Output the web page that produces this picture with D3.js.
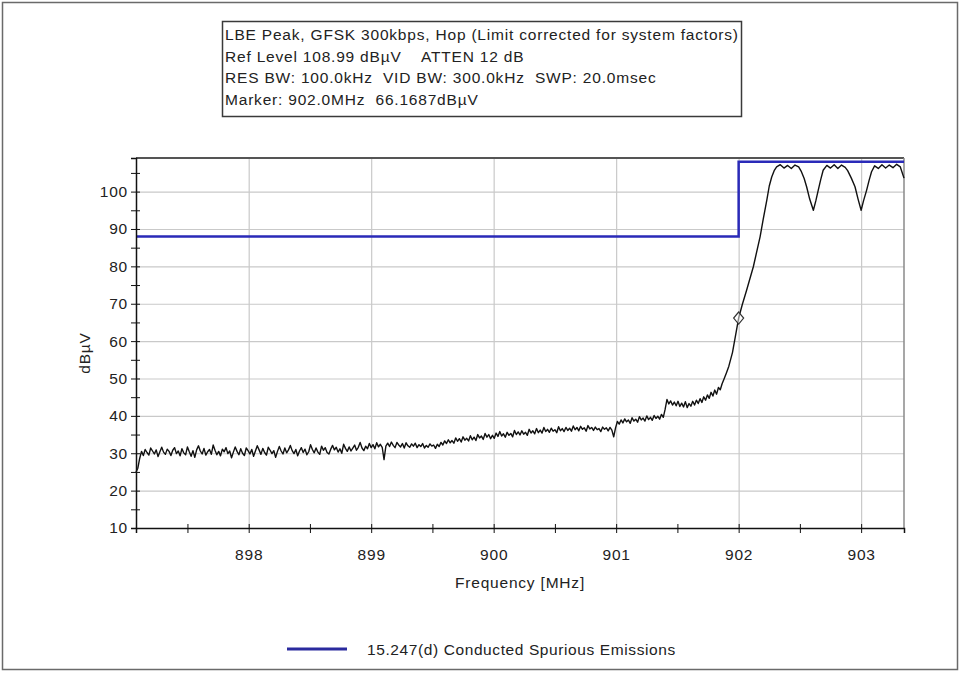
<!DOCTYPE html>
<html>
<head>
<meta charset="utf-8">
<script src="https://cdn.jsdelivr.net/npm/d3@7/dist/d3.min.js"></script>
<style>
  html, body { margin: 0; padding: 0; background: #fff; }
  svg { display: block; }
  text { font-family: "Liberation Sans", Arial, sans-serif; fill: #222; white-space: pre; }
</style>
</head>
<body>
<svg id="chart" width="960" height="673"></svg>
<script>
// Spectrum analyser sweep: band-edge (lower) conducted emissions
const headerLines = [
  "LBE Peak, GFSK 300kbps, Hop (Limit corrected for system factors)",
  "Ref Level 108.99 dB\u00B5V    ATTEN 12 dB",
  "RES BW: 100.0kHz  VID BW: 300.0kHz  SWP: 20.0msec",
  "Marker: 902.0MHz  66.1687dB\u00B5V"
];

const freqRange = [897.08, 903.35];      // MHz, sweep span
const levelRange = [10, 108.99];         // dBµV, ref level on top
const xMajorTicks = [898, 899, 900, 901, 902, 903];
const xMinorTicks = [897.5, 898.5, 899.5, 900.5, 901.5, 902.5];
const yMajorTicks = [10, 20, 30, 40, 50, 60, 70, 80, 90, 100];
const yMinorTicks = [15, 25, 35, 45, 55, 65, 75, 85, 95, 105];

// 15.247(d) limit line (MHz, dBµV)
const limitLine = [[897.08, 88], [902.0, 88], [902.0, 108], [903.35, 108]];

// Marker reading
const marker = { freq: 902.0, level: 66.1687 };

const legendLabel = "15.247(d) Conducted Spurious Emissions";

// Measured trace (MHz, dBµV)
const trace = [
  [897.080,25.0],[897.095,26.0],[897.110,28.6],[897.125,30.5],[897.140,29.4],[897.155,31.0],[897.170,30.2],[897.185,29.5],
  [897.200,31.4],[897.215,30.6],[897.230,29.8],[897.245,30.9],[897.260,29.1],[897.275,30.4],[897.290,31.6],[897.305,30.3],
  [897.320,29.7],[897.335,31.1],[897.350,30.5],[897.365,29.4],[897.380,30.8],[897.395,31.5],[897.410,29.9],[897.425,30.6],
  [897.440,29.3],[897.455,31.2],[897.470,30.1],[897.485,29.6],[897.500,31.7],[897.515,30.4],[897.530,29.2],[897.545,30.7],
  [897.560,28.9],[897.575,30.9],[897.590,32.0],[897.605,30.6],[897.620,29.8],[897.635,31.3],[897.650,29.5],[897.665,30.4],
  [897.680,31.0],[897.695,29.7],[897.710,32.2],[897.725,30.8],[897.740,29.6],[897.755,30.5],[897.770,29.3],[897.785,31.1],
  [897.800,30.4],[897.815,31.5],[897.830,29.9],[897.845,30.6],[897.860,28.8],[897.875,30.3],[897.890,31.7],[897.905,30.5],
  [897.920,29.6],[897.935,31.2],[897.950,30.0],[897.965,29.4],[897.980,31.4],[897.995,30.7],[898.010,29.8],[898.025,31.0],
  [898.040,29.2],[898.055,30.6],[898.070,32.0],[898.085,30.9],[898.100,29.7],[898.115,31.3],[898.130,30.2],[898.145,29.5],
  [898.160,31.6],[898.175,30.8],[898.190,29.9],[898.205,30.7],[898.220,28.9],[898.235,30.5],[898.250,31.8],[898.265,30.6],
  [898.280,29.8],[898.295,31.4],[898.310,30.1],[898.325,30.9],[898.340,32.1],[898.355,30.7],[898.370,29.9],[898.385,31.0],
  [898.400,29.3],[898.415,30.6],[898.430,31.5],[898.445,30.2],[898.460,31.1],[898.475,29.6],[898.490,30.4],[898.505,32.3],
  [898.520,31.0],[898.535,30.1],[898.550,31.4],[898.565,30.3],[898.580,29.7],[898.595,31.9],[898.610,30.8],[898.625,31.5],
  [898.640,30.2],[898.655,29.8],[898.670,31.1],[898.685,32.1],[898.700,30.9],[898.715,31.6],[898.730,30.3],[898.745,31.2],
  [898.760,30.0],[898.775,32.4],[898.790,31.3],[898.805,30.5],[898.820,31.7],[898.835,30.6],[898.850,31.4],[898.865,32.2],
  [898.880,30.8],[898.895,31.6],[898.910,32.9],[898.925,31.4],[898.940,30.7],[898.955,31.9],[898.970,31.2],[898.985,32.6],
  [899.000,31.5],[899.015,32.3],[899.030,31.2],[899.045,32.8],[899.060,31.7],[899.075,32.4],[899.090,31.6],[899.105,28.3],
  [899.120,31.9],[899.135,32.7],[899.150,31.8],[899.165,33.0],[899.180,32.1],[899.195,31.5],[899.210,32.9],[899.225,32.2],
  [899.240,31.7],[899.255,32.6],[899.270,31.4],[899.285,32.8],[899.300,32.0],[899.315,31.6],[899.330,32.5],[899.345,31.9],
  [899.360,32.7],[899.375,31.5],[899.390,32.3],[899.405,31.8],[899.420,32.6],[899.435,31.4],[899.450,32.1],[899.465,31.6],
  [899.480,32.5],[899.495,31.9],[899.510,32.2],[899.525,31.3],[899.540,32.4],[899.555,31.8],[899.570,32.9],[899.585,32.2],
  [899.600,33.3],[899.615,32.6],[899.630,33.6],[899.645,32.8],[899.660,33.4],[899.675,32.7],[899.690,34.1],[899.705,33.2],
  [899.720,33.9],[899.735,33.0],[899.750,34.4],[899.765,33.5],[899.780,34.0],[899.795,33.3],[899.810,34.7],[899.825,33.6],
  [899.840,34.3],[899.855,33.4],[899.870,35.0],[899.885,34.1],[899.900,34.6],[899.915,33.7],[899.930,35.3],[899.945,34.3],
  [899.960,35.0],[899.975,33.9],[899.990,34.8],[900.005,34.0],[900.020,35.4],[900.035,34.5],[900.050,35.8],[900.065,34.6],
  [900.080,35.2],[900.095,34.3],[900.110,35.6],[900.125,34.8],[900.140,35.3],[900.155,34.4],[900.170,36.1],[900.185,35.0],
  [900.200,35.7],[900.215,34.9],[900.230,36.0],[900.245,35.1],[900.260,35.6],[900.275,34.8],[900.290,36.4],[900.305,35.4],
  [900.320,36.0],[900.335,35.2],[900.350,36.6],[900.365,35.5],[900.380,36.2],[900.395,35.4],[900.410,36.9],[900.425,35.8],
  [900.440,36.4],[900.455,35.6],[900.470,36.7],[900.485,35.9],[900.500,36.3],[900.515,35.5],[900.530,37.1],[900.545,36.0],
  [900.560,36.6],[900.575,35.8],[900.590,36.9],[900.605,36.1],[900.620,36.7],[900.635,35.9],[900.650,37.3],[900.665,36.3],
  [900.680,36.9],[900.695,36.0],[900.710,37.2],[900.725,36.4],[900.740,36.8],[900.755,35.9],[900.770,37.4],[900.785,36.5],
  [900.800,36.9],[900.815,36.1],[900.830,37.0],[900.845,36.3],[900.860,36.6],[900.875,35.8],[900.890,37.0],[900.905,36.4],
  [900.920,36.8],[900.935,36.0],[900.950,36.9],[900.965,36.2],[900.980,34.4],[900.995,36.8],[901.010,38.5],[901.025,37.8],
  [901.040,38.9],[901.055,38.1],[901.070,39.2],[901.085,38.4],[901.100,38.9],[901.115,38.0],[901.130,39.5],[901.145,38.6],
  [901.160,39.1],[901.175,38.3],[901.190,39.8],[901.205,38.9],[901.220,39.4],[901.235,38.6],[901.250,40.0],[901.265,39.0],
  [901.280,39.6],[901.295,38.8],[901.310,40.1],[901.325,39.3],[901.340,39.9],[901.355,39.1],[901.370,40.4],[901.385,39.6],
  [901.400,41.8],[901.415,44.4],[901.430,43.2],[901.445,44.0],[901.460,42.9],[901.475,43.7],[901.490,42.7],[901.505,43.9],
  [901.520,42.5],[901.535,43.4],[901.550,42.4],[901.565,43.8],[901.580,42.2],[901.595,43.3],[901.610,42.6],[901.625,43.9],
  [901.640,42.9],[901.655,44.2],[901.670,43.3],[901.685,44.6],[901.700,43.6],[901.715,45.1],[901.730,44.2],[901.745,45.6],
  [901.760,44.7],[901.775,46.3],[901.790,45.3],[901.805,46.9],[901.820,45.8],[901.835,47.6],[901.850,47.0],[901.865,48.6],
  [901.880,49.8],[901.900,51.5],[901.920,53.3],[901.950,57.0],[901.980,62.5],[902.000,66.17],[902.030,69.8],[902.065,73.6],
  [902.120,79.9],[902.175,87.9],[902.200,92.5],[902.230,97.7],[902.250,101.5],[902.270,103.9],[902.290,105.6],[902.310,106.6],
  [902.340,107.2],[902.370,106.3],[902.400,107.0],[902.430,106.2],[902.460,107.1],[902.490,106.6],[902.510,105.5],[902.535,103.5],
  [902.555,101.3],[902.580,98.0],[902.610,95.0],[902.630,97.5],[902.650,100.4],[902.670,103.2],[902.690,105.7],[902.720,107.0],
  [902.750,106.3],[902.780,107.2],[902.810,106.2],[902.840,107.1],[902.870,106.5],[902.890,105.6],[902.920,103.6],[902.950,101.3],
  [902.975,98.0],[903.000,95.0],[903.020,97.6],[903.045,100.4],[903.065,103.0],[903.085,105.3],[903.110,106.9],[903.140,106.2],
  [903.170,107.2],[903.200,106.3],[903.230,107.1],[903.260,106.4],[903.290,107.3],[903.320,106.6],[903.350,103.6]
];

const svg = d3.select("#chart");
const W = 960, H = 673;
const plot = { left: 136, right: 904, top: 158, bottom: 528 };
const FS = 15.5, LS = 0.8;   // label font size and tracking

svg.append("rect").attr("width", W).attr("height", H).attr("fill", "#fff");
// outer frame
svg.append("rect").attr("x", 2.5).attr("y", 2.5).attr("width", W - 5).attr("height", H - 6)
  .attr("fill", "none").attr("stroke", "#6a6a6a").attr("stroke-width", 1.5);

// header box
const hdr = svg.append("g");
hdr.append("rect").attr("x", 222.5).attr("y", 21.5).attr("width", 519).attr("height", 95)
  .attr("fill", "#fff").attr("stroke", "#3a3a3a").attr("stroke-width", 1.5);
hdr.selectAll("text").data(headerLines).join("text")
  .attr("x", 225).attr("y", (d, i) => 40 + i * 21.7)
  .attr("font-size", FS).attr("letter-spacing", LS).text(d => d);

const x = d3.scaleLinear().domain(freqRange).range([plot.left, plot.right]);
const y = d3.scaleLinear().domain(levelRange).range([plot.bottom, plot.top]);
const pw = plot.right - plot.left, ph = plot.bottom - plot.top;

// grid
const grid = svg.append("g");
grid.append("g").attr("transform", `translate(0,${plot.bottom})`)
  .call(d3.axisBottom(x).tickValues(xMajorTicks).tickSize(-ph).tickFormat(""))
  .call(g => g.select(".domain").remove())
  .call(g => g.selectAll("line").attr("stroke", "#c9c9c9").attr("stroke-width", 1.2));
grid.append("g").attr("transform", `translate(${plot.left},0)`)
  .call(d3.axisLeft(y).tickValues(yMajorTicks.filter(v => v > levelRange[0])).tickSize(-pw).tickFormat(""))
  .call(g => g.select(".domain").remove())
  .call(g => g.selectAll("line").attr("stroke", "#c9c9c9").attr("stroke-width", 1.2));

// frame top / right
svg.append("line").attr("x1", plot.left).attr("x2", plot.right).attr("y1", plot.top).attr("y2", plot.top)
  .attr("stroke", "#555").attr("stroke-width", 2);
svg.append("line").attr("x1", plot.right).attr("x2", plot.right).attr("y1", plot.top).attr("y2", plot.bottom)
  .attr("stroke", "#8a8a8a").attr("stroke-width", 1.5);

// limit line
const line = d3.line().x(d => x(d[0])).y(d => y(d[1]));
svg.append("path").datum(limitLine).attr("d", line)
  .attr("fill", "none").attr("stroke", "#2a2ab8").attr("stroke-width", 2.5);

// trace
svg.append("path").datum(trace).attr("d", line)
  .attr("fill", "none").attr("stroke", "#111").attr("stroke-width", 1.4).attr("stroke-linejoin", "round");

// marker: open diamond
const mx = x(marker.freq), my = y(marker.level);
const dp = d3.path();
dp.moveTo(mx, my - 6); dp.lineTo(mx + 5, my); dp.lineTo(mx, my + 6); dp.lineTo(mx - 5, my); dp.closePath();
svg.append("path").attr("d", dp.toString())
  .attr("fill", "#fff").attr("fill-opacity", 0.5).attr("stroke", "#333").attr("stroke-width", 1.2);

// axes
const axisStyle = g => {
  g.selectAll(".domain").attr("stroke", "#111").attr("stroke-width", 1.5);
  g.selectAll(".tick line").attr("stroke", "#111");
  g.selectAll(".tick text").attr("font-size", FS).attr("letter-spacing", LS).attr("fill", "#222")
    .style("font-family", '"Liberation Sans", Arial, sans-serif');
};
const yAxis = svg.append("g").attr("transform", `translate(${plot.left},0)`);
yAxis.call(d3.axisLeft(y).tickValues(yMajorTicks).tickFormat(d3.format("d")).tickSizeOuter(0).tickSize(5).tickPadding(3)).call(axisStyle);
yAxis.append("g").call(d3.axisLeft(y).tickValues(yMinorTicks.filter(v => v < levelRange[1])).tickSize(5).tickFormat(""))
  .call(g => g.select(".domain").remove()).call(axisStyle);
yAxis.append("g").call(d3.axisRight(y).tickValues(yMajorTicks.concat(yMinorTicks).filter(v => v < levelRange[1])).tickSize(4).tickFormat(""))
  .call(g => g.select(".domain").remove()).call(axisStyle);

const xAxis = svg.append("g").attr("transform", `translate(0,${plot.bottom})`);
xAxis.call(d3.axisBottom(x).tickValues(xMajorTicks).tickFormat(d3.format("d")).tickSizeOuter(0).tickSize(5).tickPadding(16)).call(axisStyle);
xAxis.append("g").call(d3.axisBottom(x).tickValues(xMinorTicks).tickSize(5).tickFormat(""))
  .call(g => g.select(".domain").remove()).call(axisStyle);
xAxis.append("g").call(d3.axisTop(x).tickValues(xMajorTicks.concat(xMinorTicks)).tickSize(4).tickFormat(""))
  .call(g => g.select(".domain").remove()).call(axisStyle);

// axis titles
svg.append("text").attr("transform", `translate(90,${(plot.top + plot.bottom) / 2 + 10}) rotate(-90)`)
  .attr("text-anchor", "middle").attr("font-size", FS).attr("letter-spacing", LS).text("dB\u00B5V");
svg.append("text").attr("x", (plot.left + plot.right) / 2).attr("y", 588)
  .attr("text-anchor", "middle").attr("font-size", FS).attr("letter-spacing", LS).text("Frequency [MHz]");

// legend
const lg = svg.append("g");
lg.append("line").attr("x1", 287).attr("x2", 347).attr("y1", 649).attr("y2", 649)
  .attr("stroke", "#2a2a9e").attr("stroke-width", 3);
lg.append("text").attr("x", 367).attr("y", 654.5).attr("font-size", FS).attr("letter-spacing", 0.6).text(legendLabel);
</script>
</body>
</html>
